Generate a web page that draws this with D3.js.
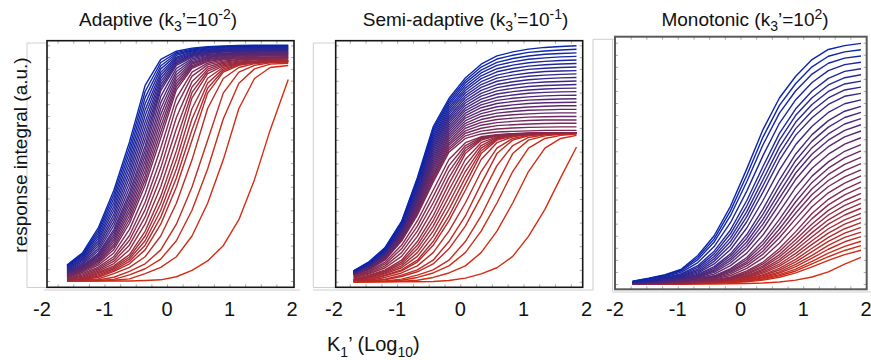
<!DOCTYPE html>
<html><head><meta charset="utf-8">
<script src="https://cdn.jsdelivr.net/npm/d3@7"></script>
<style>body{margin:0;background:#fff}svg{display:block}</style>
</head><body><svg id="c" width="871" height="360"></svg>
<script>
// ---------- texts ----------
const xTickValues = [-2, -1, 0, 1, 2];
const xTickLabels = ["-2", "-1", "0", "1", "2"];
const titleAdaptive = [["Adaptive (k",""],["3","sub"],["\u2019=10",""],["-2","sup"],[")",""]];
const titleSemi = [["Semi-adaptive (k",""],["3","sub"],["\u2019=10",""],["-1","sup"],[")",""]];
const titleMono = [["Monotonic (k",""],["3","sub"],["\u2019=10",""],["2","sup"],[")",""]];
const yLabel = "response integral (a.u.)";
const xLabelParts = [["K",""],["1","sub"],["\u2019 (Log",""],["10","sub"],[")",""]];

// ---------- data: x grids (log10 K1') ----------
const adaptiveX = [-1.6,-1.35,-1.1,-0.85,-0.6,-0.35,-0.1,0.15,0.4,0.65,0.9,1.15,1.4,1.65,1.94];
const semiX     = [-1.69,-1.44,-1.19,-0.93,-0.68,-0.43,-0.18,0.08,0.33,0.58,0.83,1.08,1.34,1.59,1.84];
const monoX     = [-1.72,-1.46,-1.2,-0.94,-0.68,-0.42,-0.16,0.1,0.36,0.62,0.88,1.14,1.4,1.66,1.92];

// ---------- data: response integral curves, ordered blue -> red ----------
const adaptiveCurves = [
[0.068,0.12,0.225,0.385,0.59,0.83,0.94,0.975,0.988,0.994,0.997,0.999,1,1,1],
[0.065,0.115,0.214,0.368,0.568,0.804,0.927,0.969,0.984,0.991,0.994,0.997,0.998,0.998,0.998],
[0.062,0.109,0.203,0.351,0.546,0.778,0.913,0.963,0.980,0.988,0.991,0.994,0.995,0.995,0.995],
[0.059,0.104,0.192,0.334,0.524,0.752,0.900,0.957,0.976,0.985,0.988,0.991,0.992,0.992,0.992],
[0.055,0.098,0.181,0.317,0.502,0.726,0.886,0.950,0.972,0.981,0.985,0.987,0.989,0.989,0.989],
[0.052,0.093,0.170,0.301,0.481,0.701,0.873,0.945,0.968,0.978,0.983,0.985,0.987,0.987,0.987],
[0.049,0.088,0.159,0.284,0.460,0.675,0.860,0.939,0.964,0.974,0.980,0.982,0.984,0.984,0.984],
[0.046,0.082,0.149,0.268,0.439,0.650,0.847,0.933,0.961,0.971,0.977,0.979,0.981,0.982,0.982],
[0.043,0.076,0.138,0.252,0.417,0.625,0.834,0.927,0.957,0.968,0.974,0.976,0.978,0.979,0.979],
[0.040,0.071,0.128,0.236,0.396,0.600,0.821,0.921,0.953,0.965,0.971,0.973,0.975,0.976,0.976],
[0.037,0.066,0.117,0.219,0.375,0.574,0.808,0.915,0.949,0.961,0.967,0.970,0.972,0.973,0.973],
[0.035,0.063,0.112,0.208,0.359,0.553,0.783,0.902,0.943,0.957,0.964,0.967,0.970,0.971,0.971],
[0.032,0.060,0.106,0.197,0.342,0.531,0.757,0.889,0.937,0.953,0.961,0.964,0.967,0.968,0.968],
[0.030,0.057,0.101,0.187,0.326,0.510,0.732,0.876,0.931,0.950,0.958,0.962,0.964,0.966,0.966],
[0.027,0.054,0.095,0.176,0.309,0.489,0.707,0.863,0.925,0.947,0.955,0.959,0.961,0.963,0.963],
[0.024,0.051,0.090,0.166,0.293,0.468,0.682,0.850,0.920,0.943,0.952,0.957,0.959,0.961,0.961],
[0.021,0.048,0.085,0.155,0.277,0.447,0.657,0.837,0.914,0.939,0.948,0.954,0.956,0.958,0.958],
[0.019,0.045,0.080,0.145,0.261,0.427,0.632,0.824,0.908,0.935,0.945,0.951,0.953,0.955,0.955],
[0.016,0.042,0.074,0.134,0.245,0.406,0.607,0.811,0.902,0.931,0.942,0.947,0.949,0.951,0.952],
[0.013,0.037,0.067,0.119,0.219,0.370,0.564,0.776,0.886,0.924,0.938,0.944,0.946,0.949,0.950],
[0.009,0.031,0.059,0.104,0.193,0.334,0.520,0.741,0.869,0.917,0.933,0.940,0.943,0.946,0.947],
[0.008,0.026,0.053,0.094,0.173,0.303,0.480,0.694,0.846,0.908,0.928,0.937,0.941,0.943,0.945],
[0.007,0.021,0.047,0.084,0.153,0.272,0.440,0.646,0.823,0.899,0.923,0.933,0.938,0.940,0.942],
[0.005,0.016,0.042,0.074,0.133,0.242,0.400,0.599,0.800,0.890,0.918,0.929,0.934,0.937,0.938],
[0.003,0.011,0.036,0.064,0.112,0.211,0.360,0.552,0.777,0.880,0.913,0.925,0.930,0.933,0.934],
[0.002,0.009,0.031,0.058,0.102,0.191,0.330,0.514,0.732,0.860,0.907,0.923,0.930,0.933,0.934],
[0.002,0.007,0.026,0.052,0.093,0.171,0.300,0.475,0.687,0.839,0.900,0.920,0.929,0.932,0.933],
[0.001,0.006,0.021,0.046,0.083,0.152,0.271,0.437,0.642,0.818,0.893,0.918,0.928,0.932,0.933],
[0.001,0.005,0.016,0.041,0.073,0.132,0.241,0.399,0.597,0.797,0.886,0.915,0.926,0.931,0.932],
[0.001,0.003,0.009,0.031,0.058,0.103,0.191,0.330,0.514,0.732,0.859,0.906,0.922,0.929,0.931],
[0.000,0.001,0.005,0.016,0.041,0.073,0.132,0.241,0.399,0.597,0.797,0.886,0.915,0.926,0.928],
[0.000,0.001,0.002,0.007,0.026,0.052,0.093,0.171,0.300,0.475,0.687,0.839,0.900,0.920,0.924],
[0,0,0.001,0.003,0.009,0.031,0.058,0.103,0.191,0.330,0.514,0.732,0.859,0.906,0.914],
[0,0,0,0,0,0.002,0.005,0.018,0.045,0.085,0.150,0.260,0.430,0.640,0.855]
];
const semiCurves = [
[0.046,0.085,0.145,0.255,0.440,0.655,0.775,0.862,0.920,0.955,0.972,0.984,0.991,0.995,0.998],
[0.045,0.084,0.143,0.252,0.433,0.645,0.766,0.851,0.908,0.942,0.958,0.970,0.976,0.980,0.983],
[0.045,0.082,0.141,0.248,0.427,0.636,0.756,0.841,0.895,0.928,0.944,0.955,0.962,0.965,0.968],
[0.044,0.081,0.138,0.245,0.420,0.626,0.747,0.830,0.883,0.915,0.930,0.941,0.947,0.951,0.953],
[0.043,0.079,0.136,0.241,0.414,0.616,0.737,0.819,0.871,0.901,0.916,0.926,0.932,0.936,0.938],
[0.042,0.078,0.134,0.238,0.407,0.606,0.728,0.809,0.859,0.888,0.902,0.912,0.918,0.921,0.923],
[0.042,0.076,0.132,0.234,0.400,0.597,0.718,0.798,0.846,0.874,0.888,0.898,0.903,0.906,0.908],
[0.041,0.075,0.130,0.231,0.394,0.587,0.709,0.787,0.834,0.861,0.874,0.883,0.889,0.891,0.893],
[0.040,0.074,0.127,0.227,0.387,0.577,0.699,0.777,0.822,0.848,0.860,0.869,0.874,0.877,0.879],
[0.039,0.072,0.125,0.224,0.381,0.567,0.690,0.766,0.809,0.834,0.846,0.854,0.859,0.862,0.864],
[0.039,0.071,0.123,0.221,0.374,0.558,0.681,0.756,0.797,0.821,0.832,0.840,0.845,0.847,0.849],
[0.038,0.069,0.121,0.217,0.367,0.548,0.671,0.745,0.785,0.807,0.818,0.826,0.830,0.832,0.834],
[0.037,0.068,0.119,0.214,0.361,0.538,0.662,0.734,0.772,0.794,0.804,0.811,0.815,0.818,0.819],
[0.036,0.066,0.117,0.210,0.354,0.528,0.652,0.724,0.760,0.780,0.790,0.797,0.801,0.803,0.804],
[0.036,0.065,0.114,0.207,0.348,0.519,0.643,0.713,0.748,0.767,0.776,0.782,0.786,0.788,0.789],
[0.035,0.064,0.112,0.203,0.341,0.509,0.633,0.702,0.736,0.754,0.762,0.768,0.771,0.773,0.774],
[0.034,0.062,0.110,0.200,0.334,0.499,0.624,0.692,0.723,0.740,0.748,0.754,0.757,0.758,0.759],
[0.033,0.061,0.108,0.196,0.328,0.489,0.614,0.681,0.711,0.727,0.734,0.739,0.742,0.744,0.744],
[0.033,0.059,0.106,0.193,0.321,0.480,0.605,0.670,0.699,0.713,0.720,0.725,0.727,0.729,0.729],
[0.032,0.058,0.103,0.189,0.315,0.470,0.595,0.660,0.686,0.700,0.706,0.710,0.713,0.714,0.714],
[0.031,0.056,0.101,0.186,0.308,0.460,0.586,0.649,0.674,0.686,0.692,0.696,0.698,0.699,0.699],
[0.030,0.055,0.099,0.183,0.301,0.450,0.577,0.638,0.662,0.673,0.678,0.682,0.684,0.684,0.684],
[0.030,0.054,0.097,0.179,0.295,0.441,0.567,0.628,0.649,0.660,0.664,0.667,0.669,0.670,0.670],
[0.029,0.052,0.095,0.176,0.288,0.431,0.558,0.617,0.637,0.646,0.650,0.653,0.654,0.655,0.655],
[0.028,0.051,0.092,0.172,0.282,0.421,0.548,0.606,0.625,0.633,0.636,0.638,0.640,0.640,0.640],
[0.025,0.046,0.083,0.154,0.257,0.387,0.517,0.588,0.613,0.622,0.626,0.628,0.630,0.630,0.630],
[0.021,0.042,0.075,0.139,0.235,0.360,0.491,0.576,0.610,0.621,0.626,0.628,0.629,0.630,0.630],
[0.018,0.037,0.067,0.123,0.214,0.333,0.466,0.565,0.606,0.619,0.625,0.627,0.629,0.630,0.630],
[0.015,0.033,0.059,0.107,0.192,0.306,0.440,0.554,0.603,0.618,0.624,0.627,0.629,0.630,0.630],
[0.011,0.028,0.050,0.091,0.170,0.278,0.414,0.542,0.599,0.617,0.624,0.627,0.629,0.630,0.630],
[0.009,0.025,0.046,0.083,0.154,0.257,0.387,0.517,0.588,0.613,0.622,0.626,0.628,0.630,0.630],
[0.008,0.021,0.042,0.075,0.139,0.235,0.360,0.491,0.576,0.610,0.621,0.626,0.628,0.629,0.630],
[0.006,0.018,0.037,0.067,0.123,0.214,0.333,0.466,0.565,0.606,0.619,0.625,0.627,0.629,0.630],
[0.005,0.015,0.033,0.059,0.107,0.192,0.306,0.440,0.554,0.603,0.618,0.624,0.627,0.629,0.630],
[0.003,0.011,0.028,0.050,0.091,0.170,0.278,0.414,0.542,0.599,0.617,0.624,0.627,0.629,0.630],
[0.003,0.009,0.025,0.046,0.083,0.154,0.257,0.387,0.517,0.588,0.613,0.622,0.626,0.628,0.630],
[0.002,0.006,0.018,0.037,0.067,0.123,0.214,0.333,0.466,0.565,0.606,0.619,0.625,0.627,0.629],
[0.001,0.003,0.011,0.028,0.050,0.091,0.170,0.278,0.414,0.542,0.599,0.617,0.624,0.627,0.629],
[0.001,0.002,0.008,0.022,0.042,0.075,0.139,0.235,0.360,0.491,0.576,0.610,0.621,0.626,0.628],
[0,0.001,0.003,0.011,0.028,0.050,0.091,0.170,0.278,0.414,0.542,0.599,0.617,0.624,0.627],
[0,0,0.002,0.006,0.018,0.037,0.067,0.123,0.214,0.333,0.466,0.565,0.606,0.619,0.625],
[0,0,0,0.002,0.006,0.018,0.037,0.067,0.123,0.214,0.333,0.466,0.565,0.606,0.619],
[0,0,0,0,0,0.001,0.005,0.015,0.033,0.059,0.107,0.192,0.306,0.440,0.570]
];
const monoCurves = [
[0.012,0.024,0.039,0.062,0.118,0.200,0.322,0.477,0.641,0.771,0.861,0.930,0.972,0.988,0.997],
[0.011,0.023,0.037,0.059,0.110,0.187,0.303,0.451,0.610,0.740,0.831,0.900,0.944,0.962,0.971],
[0.010,0.021,0.034,0.055,0.101,0.174,0.283,0.424,0.578,0.708,0.801,0.870,0.915,0.936,0.945],
[0.009,0.018,0.031,0.049,0.089,0.155,0.254,0.385,0.533,0.666,0.764,0.835,0.884,0.909,0.919],
[0.008,0.015,0.027,0.043,0.076,0.136,0.224,0.346,0.488,0.624,0.726,0.800,0.852,0.881,0.892],
[0.008,0.014,0.025,0.040,0.069,0.125,0.208,0.323,0.461,0.596,0.699,0.772,0.825,0.855,0.867],
[0.007,0.012,0.023,0.037,0.062,0.114,0.191,0.300,0.433,0.567,0.671,0.744,0.798,0.829,0.841],
[0.007,0.011,0.021,0.034,0.056,0.104,0.176,0.279,0.408,0.540,0.644,0.717,0.771,0.804,0.816],
[0.006,0.010,0.019,0.031,0.050,0.094,0.160,0.258,0.382,0.513,0.617,0.689,0.744,0.778,0.790],
[0.005,0.009,0.017,0.028,0.045,0.083,0.143,0.232,0.347,0.473,0.578,0.654,0.711,0.747,0.763],
[0.004,0.008,0.014,0.025,0.040,0.072,0.125,0.205,0.311,0.432,0.539,0.619,0.677,0.716,0.736],
[0.004,0.007,0.013,0.023,0.037,0.066,0.116,0.190,0.290,0.406,0.512,0.592,0.650,0.690,0.711],
[0.004,0.006,0.012,0.021,0.034,0.059,0.106,0.174,0.269,0.380,0.485,0.565,0.622,0.663,0.685],
[0.004,0.006,0.011,0.020,0.031,0.054,0.097,0.160,0.249,0.356,0.460,0.539,0.596,0.637,0.660],
[0.003,0.005,0.009,0.018,0.028,0.048,0.087,0.146,0.229,0.331,0.434,0.513,0.569,0.610,0.634],
[0.003,0.005,0.008,0.016,0.025,0.041,0.076,0.128,0.204,0.300,0.400,0.480,0.538,0.580,0.606],
[0.002,0.004,0.007,0.013,0.022,0.034,0.064,0.110,0.179,0.268,0.365,0.447,0.506,0.550,0.578],
[0.002,0.004,0.007,0.012,0.020,0.032,0.059,0.101,0.165,0.248,0.341,0.421,0.480,0.523,0.552],
[0.002,0.003,0.006,0.011,0.018,0.029,0.053,0.092,0.150,0.228,0.316,0.395,0.454,0.496,0.525],
[0.002,0.003,0.006,0.010,0.017,0.027,0.048,0.084,0.137,0.210,0.294,0.371,0.429,0.470,0.499],
[0.001,0.003,0.005,0.008,0.015,0.024,0.042,0.075,0.124,0.192,0.271,0.347,0.404,0.444,0.473],
[0.001,0.003,0.004,0.007,0.013,0.021,0.035,0.065,0.108,0.170,0.244,0.320,0.378,0.418,0.448],
[0.001,0.002,0.003,0.005,0.011,0.018,0.028,0.054,0.091,0.147,0.217,0.292,0.351,0.392,0.423],
[0.001,0.002,0.003,0.005,0.010,0.017,0.026,0.049,0.083,0.135,0.200,0.271,0.328,0.369,0.400],
[0.001,0.001,0.003,0.005,0.009,0.015,0.024,0.044,0.075,0.122,0.183,0.249,0.305,0.346,0.376],
[0.001,0.001,0.003,0.005,0.008,0.014,0.022,0.040,0.069,0.112,0.169,0.231,0.286,0.326,0.355],
[0.001,0.001,0.002,0.004,0.007,0.012,0.020,0.035,0.062,0.101,0.154,0.213,0.266,0.305,0.334],
[0.001,0.001,0.002,0.004,0.007,0.011,0.018,0.032,0.056,0.092,0.141,0.196,0.248,0.286,0.314],
[0,0.001,0.002,0.003,0.006,0.010,0.016,0.028,0.050,0.082,0.127,0.179,0.229,0.266,0.293],
[0,0.001,0.002,0.003,0.005,0.009,0.015,0.025,0.045,0.074,0.115,0.164,0.211,0.248,0.274],
[0,0.001,0.001,0.002,0.004,0.008,0.013,0.021,0.039,0.065,0.102,0.148,0.193,0.229,0.254],
[0,0.001,0.001,0.002,0.004,0.007,0.012,0.019,0.035,0.058,0.092,0.134,0.177,0.211,0.235],
[0,0,0.001,0.002,0.003,0.006,0.010,0.016,0.030,0.050,0.081,0.119,0.160,0.193,0.215],
[0,0,0.001,0.002,0.003,0.006,0.009,0.014,0.026,0.045,0.072,0.107,0.144,0.175,0.196],
[0,0,0.001,0.001,0.002,0.005,0.008,0.012,0.022,0.039,0.062,0.094,0.128,0.156,0.177],
[0,0,0.001,0.001,0.002,0.004,0.007,0.011,0.019,0.034,0.054,0.083,0.113,0.139,0.159],
[0,0,0.001,0.001,0.002,0.003,0.006,0.009,0.016,0.028,0.046,0.071,0.098,0.122,0.140],
[0,0,0,0,0,0,0.001,0.002,0.004,0.008,0.016,0.029,0.050,0.082,0.110]
];

// ---------- layout / style ----------
const FONT = "'Liberation Sans', Arial, Helvetica, sans-serif";
const BLUE = "#0a26ad", RED = "#d62c12";
const panels = [
  {title:titleAdaptive, xs:adaptiveX, curves:adaptiveCurves, xr:[42,292], yr:[281,45.3],
   frame:[47,40.7,294,287.3], fc:"#161616", fw:1.6, titleX:158,
   guides:[[27,43,27,287.5],[27,43,47,43],[27,287.5,47,287.5],[44,290,300,290]]},
  {title:titleSemi, xs:semiX, curves:semiCurves, xr:[334,586.6], yr:[281.7,45.3],
   frame:[335.7,40.7,582.7,287.3], fc:"#161616", fw:1.6, titleX:465.5,
   guides:[[313.3,43,313.3,287.5],[313.3,43,335.7,43],[313.3,287.5,335.7,287.5],[313,290,593,290],[593,39.3,593,290]]},
  {title:titleMono, xs:monoX, curves:monoCurves, xr:[615,866], yr:[284,42.7],
   frame:[615,36.7,866.7,289.3], fc:"#5a5a5a", fw:2, titleX:745,
   guides:[[593,39.3,615,39.3],[612.5,39.3,612.5,291.5],[612.5,292,871,292]]}
];

const svg = d3.select("#c");

function richText(g, parts, size, subSize) {
  parts.forEach(([t, kind], i) => {
    const prev = i > 0 ? parts[i-1][1] : "";
    let dy = 0;
    if (prev === "sub") dy -= size*0.28;
    if (prev === "sup") dy += size*0.38;
    if (kind === "sub") dy += size*0.28;
    if (kind === "sup") dy -= size*0.38;
    g.append("tspan").attr("dy", dy).attr("font-size", kind ? subSize : size).text(t);
  });
}

panels.forEach(p => {
  const x = d3.scaleLinear().domain([-2, 2]).range(p.xr);
  const y = d3.scaleLinear().domain([0, 1]).range(p.yr);
  const g = svg.append("g");

  g.selectAll("line.guide").data(p.guides).join("line")
    .attr("x1", d=>d[0]).attr("y1", d=>d[1]).attr("x2", d=>d[2]).attr("y2", d=>d[3])
    .attr("stroke", "#cfcfcf").attr("stroke-width", 1);

  const [fx0, fy0, fx1, fy1] = p.frame;
  const xt = d3.range(-2, 2.01, 0.25).filter(v => x(v) > fx0 + 2 && x(v) < fx1 - 2);
  const yt = d3.range(-0.05, 1.1, 0.05).filter(v => y(v) > fy0 + 2 && y(v) < fy1 - 2);
  const tickStyle = sel => { sel.select(".domain").remove(); sel.selectAll("line").attr("stroke", "#a8a8a8"); };
  g.append("g").attr("transform", `translate(0,${fy0})`)
    .call(d3.axisTop(x).tickValues(xt).tickSize(-3).tickFormat("")).call(tickStyle);
  g.append("g").attr("transform", `translate(0,${fy1})`)
    .call(d3.axisBottom(x).tickValues(xt).tickSize(-3).tickFormat("")).call(tickStyle);
  g.append("g").attr("transform", `translate(${fx0},0)`)
    .call(d3.axisLeft(y).tickValues(yt).tickSize(-3).tickFormat("")).call(tickStyle);
  g.append("g").attr("transform", `translate(${fx1},0)`)
    .call(d3.axisRight(y).tickValues(yt).tickSize(-3).tickFormat("")).call(tickStyle);

  const n = p.curves.length;
  const color = i => d3.interpolateRgb(BLUE, RED)(i / (n - 1));
  const line = d3.line().x((d, i) => x(p.xs[i])).y(d => y(d));
  const order = d3.range(n).reverse();
  g.selectAll("path.curve").data(order).join("path")
    .attr("d", i => line(p.curves[i]))
    .attr("fill", "none").attr("stroke", i => color(i))
    .attr("stroke-width", 1.4).attr("stroke-linejoin", "round");

  g.append("rect").attr("x", fx0).attr("y", fy0).attr("width", fx1 - fx0).attr("height", fy1 - fy0)
    .attr("fill", "none").attr("stroke", p.fc).attr("stroke-width", p.fw);

  g.selectAll("text.tl").data(xTickValues).join("text")
    .attr("x", d => x(d)).attr("y", 316).attr("text-anchor", "middle")
    .attr("font-family", FONT).attr("font-size", 20).attr("fill", "#111")
    .text((d, i) => xTickLabels[i]);

  const t = g.append("text").attr("x", p.titleX).attr("y", 26).attr("text-anchor", "middle")
    .attr("font-family", FONT).attr("fill", "#111");
  richText(t, p.title, 19, 14);
});

svg.append("text").attr("transform", "translate(27,155) rotate(-90)").attr("text-anchor", "middle")
  .attr("font-family", FONT).attr("font-size", 19).attr("fill", "#111").text(yLabel);
const xl = svg.append("text").attr("x", 327).attr("y", 351).attr("font-family", FONT).attr("fill", "#111");
richText(xl, xLabelParts, 20, 14);
</script>
</body></html>
